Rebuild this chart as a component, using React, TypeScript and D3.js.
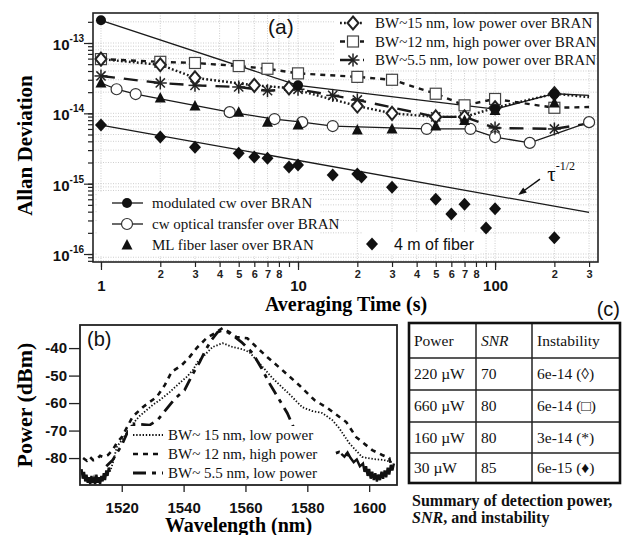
import React, { useRef, useEffect } from "react";
import * as d3 from "d3";

const W = 624;
const H = 535;
const SERIF = "'Liberation Serif', 'Times New Roman', serif";
const SANS = "'Liberation Sans', Arial, sans-serif";

// ---- (a) Allan deviation vs averaging time ----
const modCwT = [1, 10, 100, 200, 300];
const modCwV = [2.1e-13, 2.5e-14, 1.15e-14, 1.9e-14, 1.8e-14];

const cwOptT = [1, 1.2, 1.5, 4.5, 7.6, 10.5, 15, 45, 75, 100, 150, 300];
const cwOptV = [2.7e-14, 2.2e-14, 1.88e-14, 1.04e-14, 8.3e-15, 7.5e-15, 6.6e-15, 6.0e-15, 6.0e-15, 4.6e-15, 3.8e-15, 7.5e-15];

const mlT = [1, 2, 3, 5, 7, 10, 20, 30, 50, 70, 100, 200];
const mlV = [2.7e-14, 1.65e-14, 1.27e-14, 1.04e-14, 7.5e-15, 6.8e-15, 5.8e-15, 6.0e-15, 6.6e-15, 7.9e-15, 1.1e-14, 1.4e-14];

const bw15T = [1, 2, 3, 6, 9, 20, 30, 50, 70, 100, 200, 300];
const bw15V = [5.9e-14, 4.9e-14, 3.2e-14, 2.5e-14, 2.3e-14, 1.27e-14, 1.0e-14, 8.9e-15, 8.9e-15, 1.2e-14, 1.9e-14, 1.7e-14];

const bw12T = [1, 2, 3, 5, 7, 10, 20, 30, 50, 70, 100, 200, 300];
const bw12V = [5.9e-14, 5.4e-14, 5.2e-14, 4.7e-14, 4.3e-14, 3.7e-14, 3.3e-14, 3.0e-14, 1.9e-14, 1.3e-14, 1.6e-14, 1.2e-14, 1.23e-14];

const bw55T = [1, 2, 3, 5, 7, 10, 15, 20, 50, 70, 100, 200, 300];
const bw55V = [3.4e-14, 2.7e-14, 2.5e-14, 2.37e-14, 2.1e-14, 2.2e-14, 1.8e-14, 1.55e-14, 8.9e-15, 8.9e-15, 6.2e-15, 6.0e-15, 7.2e-15];

const fiberT = [1, 2, 3, 5, 6, 7, 9, 10, 15, 20, 21, 30, 50, 60, 70, 90, 100, 200];
const fiberV = [6.8e-15, 4.6e-15, 3.3e-15, 2.7e-15, 2.4e-15, 2.3e-15, 1.73e-15, 1.84e-15, 1.33e-15, 1.37e-15, 1.24e-15, 8.9e-16, 6.0e-16, 3.7e-16, 5.1e-16, 2.35e-16, 4.4e-16, 1.7e-16];

const tauRefT = [1, 300];
const tauRefV = [6.8e-15, 3.9e-16];

const xMajorA = [1, 10, 100];
const xMinorLabelsA = [2, 3, 4, 5, 6, 7, 8, 20, 30, 40, 50, 60, 70, 80, 200, 300];
const yMajorA = [1e-16, 1e-15, 1e-14, 1e-13];
const yMajorExp = ["-16", "-15", "-14", "-13"];

const legendTopLabels = [
  "BW~15 nm, low power over BRAN",
  "BW~12 nm, high power over BRAN",
  "BW~5.5 nm, low power over BRAN",
];
const legendBottomLabels = [
  "modulated cw over BRAN",
  "cw optical transfer over BRAN",
  "ML fiber laser over BRAN",
];

// ---- (b) optical spectra ----
const spec15L = [1516.5, 1517.1, 1518.4, 1520, 1521.6, 1523.5, 1525.8, 1528.1, 1530, 1532.3, 1535.5, 1538.7, 1541, 1543, 1544.5, 1546.1, 1547.7, 1549.4, 1552.6, 1555.8, 1559, 1561.3, 1564.5, 1568.7, 1573.5, 1578.4, 1581.6, 1584.8, 1588.1, 1590.3, 1593.5, 1597.7, 1601.6, 1604.8, 1607.4];
const spec15P = [-84, -81.8, -76, -73.5, -70.9, -67.6, -64.7, -62.5, -60.7, -58.9, -56, -52.7, -50.5, -48, -45.1, -43.3, -41.5, -39.6, -38.2, -39.6, -40.4, -41.5, -45.5, -50.9, -56, -61.5, -62.9, -63.6, -66.2, -69.1, -74.5, -79.6, -80.4, -80.7, -81.5];

const spec12L = [1507.5, 1508.7, 1509.7, 1510.8, 1511.9, 1513, 1513.9, 1515.5, 1517.1, 1518.4, 1520, 1521.6, 1523.5, 1526.8, 1529, 1531.3, 1533.9, 1536.1, 1539.4, 1541.9, 1544.2, 1547.4, 1550.6, 1552.6, 1554.8, 1557.1, 1560.6, 1563.9, 1567.1, 1571.9, 1577.4, 1582.3, 1586.5, 1592.6, 1595.8, 1601, 1604.2, 1606.5, 1607.4];
const spec12P = [-80, -81, -79.6, -80.8, -80.4, -79.2, -79.6, -78.9, -77, -74.5, -72.4, -69, -65, -61.5, -59.6, -57.8, -53.5, -48.7, -46.2, -43.3, -40, -36.4, -34.2, -32.7, -34.2, -36, -36.4, -40, -43.3, -48, -53.5, -58.9, -61.8, -66.9, -72.4, -77.1, -78.9, -80, -84.4];

const spec55L = [1515, 1517.1, 1518.4, 1520, 1521.9, 1524.2, 1529, 1531.6, 1533.9, 1537.1, 1540.3, 1542.9, 1545.2, 1547.1, 1549, 1551, 1552.6, 1554.2, 1555.8, 1558.7, 1562.3, 1565.2, 1567.7, 1571, 1573.5, 1577.4, 1582.3, 1587, 1590.3, 1593.5];
const spec55P = [-83, -80.7, -78.2, -75.3, -70.5, -67.6, -68, -66.2, -62.9, -58.5, -55.3, -49.5, -45.1, -40.7, -37.1, -34.2, -33.5, -34.2, -35.3, -37.8, -41.8, -47.3, -52.7, -58.9, -63.6, -73.5, -77.8, -79, -77.8, -79];

const floorLeftL = [1507, 1507.4, 1507.8, 1508.2, 1508.6, 1509, 1509.4, 1509.8, 1510.2, 1510.6, 1511, 1511.4, 1511.8, 1512.2, 1512.6, 1513, 1513.4, 1513.8, 1514.2, 1514.6, 1515, 1515.4, 1515.8, 1516.2];
const floorLeftP = [-84, -87.5, -85, -88.5, -86, -89, -87, -89.5, -86.5, -89, -87.5, -89.5, -86, -89, -87, -89.5, -86.5, -88.5, -85.5, -88, -84.5, -86.5, -83.5, -85];

const floorRightL = [1591, 1592, 1593, 1594, 1595, 1596, 1597, 1598, 1598.5, 1599, 1599.5, 1600, 1600.5, 1601, 1601.5, 1602, 1602.5, 1603, 1603.5, 1604, 1604.5, 1605, 1605.5, 1606, 1606.5, 1607, 1607.5, 1608];
const floorRightP = [-78.5, -79.5, -78, -80, -81.5, -80.5, -83, -82, -85, -83, -86.5, -84, -87.5, -85, -88, -85.5, -88.5, -86, -88, -85, -87.5, -84.5, -87, -83.5, -86, -82.5, -84.5, -82];

const xTicksB = [1520, 1540, 1560, 1580, 1600];
const yTicksB = [-40, -50, -60, -70, -80];
const legendBLabels = ["BW~ 15 nm, low power", "BW~ 12 nm, high power", "BW~ 5.5 nm, low power"];

// ---- (c) table ----
const tableHeader = ["Power", "SNR", "Instability"];
const tablePower = ["220 \u00b5W", "660 \u00b5W", "160 \u00b5W", "30 \u00b5W"];
const tableSnr = ["70", "80", "80", "85"];
const tableInst = ["6e-14 (\u25ca)", "6e-14 (\u25a1)", "3e-14 (*)", "6e-15 (\u2666)"];

const zip = (a: number[], b: number[]) => a.map((v, i) => [v, b[i]] as [number, number]);

const drawMarker = (g: any, kind: string, cx: number, cy: number) => {
  if (kind === "dot") {
    g.append("circle").attr("cx", cx).attr("cy", cy).attr("r", 5).attr("fill", "#111");
  } else if (kind === "ring") {
    g.append("circle").attr("cx", cx).attr("cy", cy).attr("r", 5.5)
      .attr("fill", "#fff").attr("stroke", "#333").attr("stroke-width", 1.2);
  } else if (kind === "tri") {
    g.append("path").attr("d", `M${cx},${cy - 6}L${cx + 5.5},${cy + 4.5}L${cx - 5.5},${cy + 4.5}Z`).attr("fill", "#111");
  } else if (kind === "odia") {
    g.append("path").attr("d", `M${cx},${cy - 6.5}L${cx + 5.5},${cy}L${cx},${cy + 6.5}L${cx - 5.5},${cy}Z`)
      .attr("fill", "#fff").attr("stroke", "#222").attr("stroke-width", 2);
  } else if (kind === "sq") {
    g.append("rect").attr("x", cx - 5.5).attr("y", cy - 5.5).attr("width", 11).attr("height", 11)
      .attr("fill", "#fff").attr("stroke", "#444").attr("stroke-width", 1.2);
  } else if (kind === "star") {
    [0, 45, 90, 135].forEach((a) => {
      const r = (a * Math.PI) / 180;
      g.append("line")
        .attr("x1", cx - 6.5 * Math.cos(r)).attr("y1", cy - 6.5 * Math.sin(r))
        .attr("x2", cx + 6.5 * Math.cos(r)).attr("y2", cy + 6.5 * Math.sin(r))
        .attr("stroke", "#222").attr("stroke-width", 1.5);
    });
  } else if (kind === "fdia") {
    g.append("path").attr("d", `M${cx},${cy - 6.5}L${cx + 6},${cy}L${cx},${cy + 6.5}L${cx - 6},${cy}Z`).attr("fill", "#111");
  }
};

const lineStyles: Record<string, { dash: string | null; w: number }> = {
  solid: { dash: null, w: 1.3 },
  dotted: { dash: "1.8,2.2", w: 2.4 },
  dashed: { dash: "5,5", w: 2.4 },
  longdash: { dash: "14,9", w: 2.4 },
};

const App = () => {
  const ref = useRef<SVGSVGElement>(null);

  useEffect(() => {
    const svg = d3.select(ref.current);
    svg.selectChildren().remove();
    svg.append("rect").attr("width", W).attr("height", H).attr("fill", "#fff");

    // ================= (a) =================
    const A = { left: 93, right: 598, top: 13, bottom: 262 };
    const x = d3.scaleLog().domain([0.911, 333]).range([A.left, A.right]);
    const y = d3.scaleLog().domain([7.7e-17, 2.67e-13]).range([A.bottom, A.top]);

    const xGrid: number[] = [];
    [1, 10, 100].forEach((d) => d3.range(1, 10).forEach((k) => { if (k * d <= 330) xGrid.push(k * d); }));
    const yGrid: number[] = [];
    [-17, -16, -15, -14, -13].forEach((e) => d3.range(1, 10).forEach((k) => {
      const v = k * Math.pow(10, e);
      if (v > 7.7e-17 && v < 2.67e-13) yGrid.push(v);
    }));

    const ga = svg.append("g");
    const grid = ga.append("g").attr("stroke", "#c2c2c2").attr("stroke-width", 0.8).attr("stroke-dasharray", "1,1.5");
    xGrid.forEach((t) => grid.append("line").attr("x1", x(t)).attr("x2", x(t)).attr("y1", A.top).attr("y2", A.bottom));
    yGrid.forEach((v) => grid.append("line").attr("x1", A.left).attr("x2", A.right).attr("y1", y(v)).attr("y2", y(v)));

    // axes
    const axX = ga.append("g").attr("transform", `translate(0,${A.bottom})`);
    axX.append("g").call(d3.axisBottom(x).tickValues(xGrid).tickSize(5).tickFormat(() => "")).select(".domain").remove();
    axX.append("g").call(d3.axisBottom(x).tickValues(xMinorLabelsA).tickSize(0).tickPadding(8)
      .tickFormat((d: any) => String(+d / Math.pow(10, Math.floor(Math.log10(+d) + 1e-9)))))
      .call((g: any) => g.select(".domain").remove())
      .selectAll("text").attr("font-family", SANS).attr("font-size", 11).attr("font-weight", "bold").attr("fill", "#222");
    axX.append("g").call(d3.axisBottom(x).tickValues(xMajorA).tickSize(8).tickPadding(10).tickFormat((d: any) => String(d)))
      .call((g: any) => g.select(".domain").remove())
      .selectAll("text").attr("font-family", SANS).attr("font-size", 15).attr("font-weight", "bold").attr("fill", "#111");
    ga.selectAll(".tick line").attr("stroke", "#222").attr("stroke-width", 1.2);

    const axY = ga.append("g").attr("transform", `translate(${A.left},0)`);
    axY.append("g").call(d3.axisLeft(y).tickValues(yGrid).tickSize(5).tickFormat(() => "")).select(".domain").remove();
    axY.append("g").call(d3.axisLeft(y).tickValues(yMajorA).tickSize(9).tickFormat(() => "")).select(".domain").remove();
    axY.selectAll(".tick line").attr("stroke", "#222").attr("stroke-width", 1.2);
    yMajorA.forEach((v, i) => {
      const t = ga.append("text").attr("x", 84).attr("y", y(v) + 7).attr("text-anchor", "end")
        .attr("font-family", SANS).attr("font-weight", "bold").attr("fill", "#111");
      t.append("tspan").attr("font-size", 15).text("10");
      t.append("tspan").attr("font-size", 10).attr("dy", -8).text(yMajorExp[i]);
    });

    ga.append("text").attr("transform", `translate(32,${(A.top + A.bottom) / 2 + 8}) rotate(-90)`)
      .attr("text-anchor", "middle").attr("font-family", SERIF).attr("font-weight", "bold")
      .attr("font-size", 21).text("Allan Deviation");
    ga.append("text").attr("x", 346).attr("y", 311).attr("text-anchor", "middle")
      .attr("font-family", SERIF).attr("font-weight", "bold").attr("font-size", 20).text("Averaging Time (s)");

    // series
    const plot = ga.append("g");
    const line = d3.line<[number, number]>().x((d) => x(d[0])).y((d) => y(d[1]));
    const drawLine = (T: number[], V: number[], style: string) => {
      const s = lineStyles[style];
      plot.append("path").attr("d", line(zip(T, V))).attr("fill", "none").attr("stroke", "#1a1a1a")
        .attr("stroke-width", s.w).attr("stroke-dasharray", s.dash);
    };
    const drawMarks = (T: number[], V: number[], kind: string) => {
      T.forEach((t, i) => drawMarker(plot, kind, x(t), y(V[i])));
    };

    drawLine(tauRefT, tauRefV, "solid");
    drawLine(modCwT, modCwV, "solid");
    drawLine(cwOptT, cwOptV, "solid");
    drawLine(bw12T, bw12V, "dashed");
    drawLine(bw55T, bw55V, "longdash");
    drawLine(bw15T, bw15V, "dotted");

    drawMarks(cwOptT.slice(1), cwOptV.slice(1), "ring");
    drawMarks(bw12T.slice(0, -1), bw12V.slice(0, -1), "sq");
    drawMarks(bw55T.slice(0, -1), bw55V.slice(0, -1), "star");
    drawMarks(bw15T.slice(0, -1), bw15V.slice(0, -1), "odia");
    drawMarks(mlT, mlV, "tri");
    drawMarks(modCwT.slice(0, -1), modCwV.slice(0, -1), "dot");
    drawMarks(fiberT, fiberV, "fdia");

    // tau^-1/2 annotation
    const tip = [x(131), y(6.9e-16)];
    const tail = [x(169), y(1.16e-15)];
    plot.append("line").attr("x1", tail[0]).attr("y1", tail[1]).attr("x2", tip[0] + 4).attr("y2", tip[1] - 3)
      .attr("stroke", "#111").attr("stroke-width", 1.5);
    const ang = Math.atan2(tip[1] - tail[1], tip[0] - tail[0]);
    const hp = (r: number, a: number) => [tip[0] - r * Math.cos(ang + a), tip[1] - r * Math.sin(ang + a)];
    const h1 = hp(9, 0.35), h2 = hp(9, -0.35);
    plot.append("path").attr("d", `M${tip[0]},${tip[1]}L${h1[0]},${h1[1]}L${h2[0]},${h2[1]}Z`).attr("fill", "#111");
    const tau = plot.append("text").attr("x", x(184)).attr("y", y(1.1e-15)).attr("font-family", SERIF).attr("fill", "#111");
    tau.append("tspan").attr("font-size", 21).text("\u03c4");
    tau.append("tspan").attr("font-size", 12).attr("dy", -11).text("-1/2");

    // top-right legend
    const lt = ga.append("g");
    lt.append("rect").attr("x", 334).attr("y", 14).attr("width", 262).attr("height", 56).attr("fill", "#fff");
    const topStyles = ["dotted", "dashed", "longdash"];
    const topMarks = ["odia", "sq", "star"];
    legendTopLabels.forEach((lab, i) => {
      const ly = 23 + i * 18.5;
      const s = lineStyles[topStyles[i]];
      lt.append("line").attr("x1", 340).attr("x2", 364).attr("y1", ly).attr("y2", ly)
        .attr("stroke", "#1a1a1a").attr("stroke-width", s.w).attr("stroke-dasharray", s.dash);
      drawMarker(lt, topMarks[i], 353, ly);
      lt.append("text").attr("x", 375).attr("y", ly + 5).attr("font-family", SERIF).attr("font-size", 15)
        .attr("fill", "#111").text(lab);
    });

    // bottom-left legend
    const lb = ga.append("g");
    lb.append("rect").attr("x", 98).attr("y", 192).attr("width", 222).attr("height", 64).attr("fill", "#fff");
    const botMarks = ["dot", "ring", "tri"];
    legendBottomLabels.forEach((lab, i) => {
      const ly = 203 + i * 21;
      if (i < 2) {
        lb.append("line").attr("x1", 112).attr("x2", 143).attr("y1", ly).attr("y2", ly)
          .attr("stroke", "#1a1a1a").attr("stroke-width", 1.3);
      }
      drawMarker(lb, botMarks[i], 127, ly);
      lb.append("text").attr("x", 152).attr("y", ly + 5).attr("font-family", SERIF).attr("font-size", 15)
        .attr("fill", "#111").text(lab);
    });
    lb.append("rect").attr("x", 362).attr("y", 232).attr("width", 118).attr("height", 22).attr("fill", "#fff");
    drawMarker(lb, "fdia", 372, 244);
    lb.append("text").attr("x", 394).attr("y", 250).attr("font-family", SANS).attr("font-size", 16)
      .attr("fill", "#111").text("4 m of fiber");

    ga.append("text").attr("x", 268).attr("y", 34).attr("font-family", SANS).attr("font-size", 21)
      .attr("fill", "#111").text("(a)");

    ga.append("rect").attr("x", A.left).attr("y", A.top).attr("width", A.right - A.left).attr("height", A.bottom - A.top)
      .attr("fill", "none").attr("stroke", "#222").attr("stroke-width", 1.6);

    // ================= (b) =================
    const B = { left: 80, right: 397, top: 325, bottom: 485 };
    const xb = d3.scaleLinear().domain([1506.5, 1609]).range([B.left, B.right]);
    const yb = d3.scaleLinear().domain([-89.8, -31.6]).range([B.bottom, B.top]);
    const gb = svg.append("g");

    gb.append("clipPath").attr("id", "clipB").append("rect")
      .attr("x", B.left).attr("y", B.top).attr("width", B.right - B.left).attr("height", B.bottom - B.top);

    const axXb = gb.append("g").attr("transform", `translate(0,${B.bottom})`)
      .call(d3.axisBottom(xb).tickValues(xTicksB).tickSize(7).tickPadding(10).tickFormat((d: any) => String(d)));
    axXb.select(".domain").remove();
    axXb.selectAll("text").attr("font-family", SANS).attr("font-size", 15).attr("font-weight", "bold").attr("fill", "#111");
    const axYb = gb.append("g").attr("transform", `translate(${B.left},0)`)
      .call(d3.axisLeft(yb).tickValues(yTicksB).tickSize(11).tickPadding(2).tickFormat((d: any) => String(d)));
    axYb.select(".domain").remove();
    axYb.selectAll("text").attr("font-family", SANS).attr("font-size", 15).attr("font-weight", "bold").attr("fill", "#111");
    gb.selectAll(".tick line").attr("stroke", "#222").attr("stroke-width", 1.3);

    const specG = gb.append("g").attr("clip-path", "url(#clipB)");
    const lineB = d3.line<[number, number]>().x((d) => xb(d[0])).y((d) => yb(d[1]));
    const specLine = (L: number[], P: number[], dash: string | null, w: number) =>
      specG.append("path").attr("d", lineB(zip(L, P))).attr("fill", "none").attr("stroke", "#111")
        .attr("stroke-width", w).attr("stroke-dasharray", dash);
    specLine(floorLeftL, floorLeftP, null, 2.4);
    specLine(floorRightL, floorRightP, null, 2.4);
    specLine(spec15L, spec15P, "1.4,1.8", 1.8);
    specLine(spec12L, spec12P, "5,5", 2.6);
    specLine(spec55L, spec55P, "13,6,4,6", 2.8);

    // legend (b)
    const lgb = gb.append("g");
    lgb.append("rect").attr("x", 128).attr("y", 426).attr("width", 203).attr("height", 57).attr("fill", "#fff");
    const bDash = [["1.4,1.8", 1.8], ["5,5", 2.6], ["13,6,4,6", 2.8]];
    legendBLabels.forEach((lab, i) => {
      const ly = 435 + i * 19;
      lgb.append("line").attr("x1", 133).attr("x2", 163).attr("y1", ly).attr("y2", ly)
        .attr("stroke", "#111").attr("stroke-width", bDash[i][1] as number).attr("stroke-dasharray", bDash[i][0] as string);
      lgb.append("text").attr("x", 168).attr("y", ly + 5).attr("font-family", SERIF).attr("font-size", 15)
        .attr("fill", "#111").text(lab);
    });

    gb.append("text").attr("x", 87).attr("y", 346).attr("font-family", SANS).attr("font-size", 20)
      .attr("fill", "#111").text("(b)");
    gb.append("text").attr("transform", `translate(32,${(B.top + B.bottom) / 2}) rotate(-90)`)
      .attr("text-anchor", "middle").attr("font-family", SERIF).attr("font-weight", "bold")
      .attr("font-size", 22).text("Power (dBm)");
    gb.append("text").attr("x", (B.left + B.right) / 2).attr("y", 532).attr("text-anchor", "middle")
      .attr("font-family", SERIF).attr("font-weight", "bold").attr("font-size", 20).text("Wavelength (nm)");
    gb.append("rect").attr("x", B.left).attr("y", B.top).attr("width", B.right - B.left).attr("height", B.bottom - B.top)
      .attr("fill", "none").attr("stroke", "#222").attr("stroke-width", 1.8);

    // ================= (c) =================
    const gc = svg.append("g");
    const colX = [409, 476, 532, 620];
    const rowY = [323, 358, 390, 422, 453, 483];
    for (let i = 1; i < rowY.length - 1; i++) {
      gc.append("line").attr("x1", colX[0]).attr("x2", colX[3]).attr("y1", rowY[i]).attr("y2", rowY[i])
        .attr("stroke", "#222").attr("stroke-width", 1.5);
    }
    for (let j = 1; j < colX.length - 1; j++) {
      gc.append("line").attr("x1", colX[j]).attr("x2", colX[j]).attr("y1", rowY[0]).attr("y2", rowY[5])
        .attr("stroke", "#222").attr("stroke-width", 1.5);
    }
    gc.append("rect").attr("x", colX[0]).attr("y", rowY[0]).attr("width", colX[3] - colX[0]).attr("height", rowY[5] - rowY[0])
      .attr("fill", "none").attr("stroke", "#111").attr("stroke-width", 2.6);
    const cellText = (txt: string, c: number, r: number, italic = false) =>
      gc.append("text").attr("x", colX[c] + 5).attr("y", (rowY[r] + rowY[r + 1]) / 2 + 5)
        .attr("font-family", SERIF).attr("font-size", 15.5).attr("font-style", italic ? "italic" : "normal")
        .attr("fill", "#111").text(txt);
    tableHeader.forEach((h, c) => cellText(h, c, 0, c === 1));
    tablePower.forEach((p, r) => {
      cellText(p, 0, r + 1);
      cellText(tableSnr[r], 1, r + 1);
      cellText(tableInst[r], 2, r + 1);
    });
    gc.append("text").attr("x", 620).attr("y", 316).attr("text-anchor", "end").attr("font-family", SANS)
      .attr("font-size", 20).attr("fill", "#111").text("(c)");
    gc.append("text").attr("x", 412).attr("y", 506).attr("font-family", SERIF).attr("font-weight", "bold")
      .attr("font-size", 16).attr("fill", "#111").text("Summary of detection power,");
    const cap2 = gc.append("text").attr("x", 412).attr("y", 523).attr("font-family", SERIF).attr("font-weight", "bold")
      .attr("font-size", 16).attr("fill", "#111");
    cap2.append("tspan").attr("font-style", "italic").text("SNR");
    cap2.append("tspan").text(", and instability");
  }, []);

  return (
    <svg ref={ref} width={W} height={H} style={{ position: "absolute", left: 0, top: 0 }} />
  );
};

export default App;
